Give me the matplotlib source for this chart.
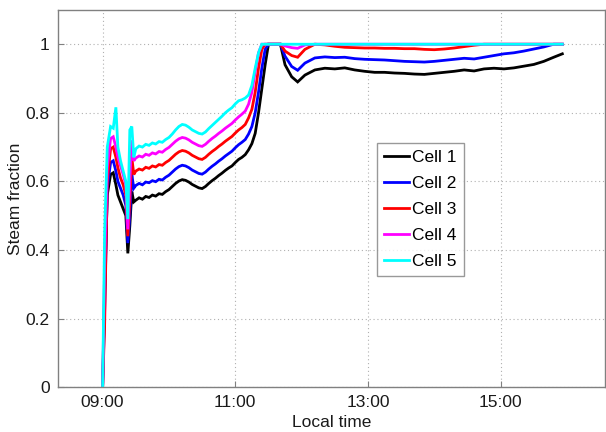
#!/usr/bin/env python3
"""Steam fraction per cell over the day."""
import matplotlib
matplotlib.use("Agg")
import matplotlib.pyplot as plt

# time in decimal hours (local time)
hours = [9.00, 9.03, 9.07, 9.12, 9.16, 9.20, 9.23, 9.27, 9.31, 9.35, 9.38, 9.41, 9.44, 9.47, 9.50,
         9.55, 9.60, 9.65, 9.70, 9.75, 9.80, 9.85, 9.90, 9.95, 10.00,
         10.05, 10.10, 10.15, 10.20, 10.25, 10.30, 10.35, 10.40, 10.45, 10.50,
         10.55, 10.60, 10.65, 10.70, 10.75, 10.80, 10.85, 10.90, 10.95, 11.00,
         11.05, 11.10, 11.15, 11.20, 11.25, 11.30, 11.35, 11.40, 11.45, 11.50, 11.55, 11.60,
         11.68, 11.75, 11.85, 11.94, 12.05,
         12.20, 12.35, 12.50, 12.65, 12.80, 12.95, 13.10, 13.25, 13.40, 13.55, 13.70,
         13.85, 14.00, 14.15, 14.30, 14.45, 14.60, 14.75, 14.90, 15.05, 15.20, 15.35, 15.50, 15.65, 15.80, 15.93]

cell1 = [0.00, 0.28, 0.56, 0.62, 0.625, 0.59, 0.56, 0.54, 0.52, 0.50, 0.39, 0.47, 0.57, 0.54, 0.545,
         0.552, 0.548, 0.556, 0.553, 0.560, 0.557, 0.564, 0.562, 0.570, 0.576,
         0.585, 0.594, 0.601, 0.605, 0.603, 0.598, 0.591, 0.586, 0.581, 0.579,
         0.585, 0.594, 0.602, 0.609, 0.617, 0.624, 0.632, 0.639, 0.645, 0.655,
         0.664, 0.670, 0.678, 0.692, 0.710, 0.740, 0.800, 0.870, 0.940, 1.0, 1.0, 1.0,
         1.0, 0.94, 0.905, 0.89, 0.91,
         0.925, 0.930, 0.928, 0.931, 0.925, 0.921, 0.918, 0.918, 0.916, 0.915, 0.913,
         0.912, 0.915, 0.918, 0.921, 0.925, 0.922, 0.928, 0.930, 0.928, 0.931, 0.936, 0.941, 0.950, 0.962, 0.972]

cell2 = [0.00, 0.22, 0.58, 0.655, 0.66, 0.63, 0.60, 0.58, 0.56, 0.53, 0.42, 0.50, 0.62, 0.58, 0.588,
         0.594, 0.590, 0.598, 0.596, 0.602, 0.599, 0.606, 0.604, 0.612, 0.618,
         0.627, 0.636, 0.643, 0.647, 0.645, 0.640, 0.633, 0.628, 0.623, 0.621,
         0.627, 0.636, 0.644, 0.651, 0.659, 0.666, 0.674, 0.681, 0.688, 0.698,
         0.707, 0.714, 0.722, 0.738, 0.760, 0.800, 0.860, 0.930, 0.985, 1.0, 1.0, 1.0,
         1.0, 0.965, 0.935, 0.924, 0.945,
         0.960, 0.963, 0.961, 0.962, 0.958, 0.956, 0.955, 0.954, 0.952, 0.950, 0.949,
         0.948, 0.950, 0.953, 0.956, 0.959, 0.957, 0.962, 0.967, 0.972, 0.975, 0.980, 0.986, 0.992, 1.0, 1.0]

cell3 = [0.00, 0.18, 0.60, 0.695, 0.70, 0.67, 0.64, 0.61, 0.59, 0.56, 0.44, 0.54, 0.67, 0.62, 0.630,
         0.636, 0.633, 0.641, 0.638, 0.645, 0.642, 0.649, 0.647, 0.655, 0.661,
         0.670, 0.679, 0.686, 0.690, 0.688, 0.683, 0.676, 0.671, 0.666, 0.664,
         0.670, 0.679, 0.687, 0.694, 0.702, 0.709, 0.717, 0.724, 0.731, 0.741,
         0.750, 0.757, 0.766, 0.785, 0.810, 0.860, 0.930, 0.985, 1.0, 1.0, 1.0, 1.0,
         1.0, 0.980, 0.967, 0.962, 0.985,
         1.0, 0.998, 0.994, 0.991, 0.990, 0.989, 0.989, 0.988, 0.988, 0.987, 0.987,
         0.985, 0.984, 0.986, 0.989, 0.993, 0.997, 1.0, 1.0, 1.0, 1.0, 1.0, 1.0, 1.0, 1.0, 1.0]

cell4 = [0.00, 0.35, 0.64, 0.725, 0.73, 0.70, 0.67, 0.645, 0.62, 0.59, 0.46, 0.60, 0.72, 0.66, 0.668,
         0.674, 0.671, 0.679, 0.676, 0.683, 0.680, 0.687, 0.685, 0.693, 0.699,
         0.708, 0.717, 0.724, 0.728, 0.726, 0.721, 0.714, 0.709, 0.704, 0.702,
         0.708, 0.717, 0.725, 0.732, 0.740, 0.747, 0.755, 0.762, 0.769, 0.779,
         0.788, 0.796, 0.805, 0.825, 0.860, 0.920, 0.975, 1.0, 1.0, 1.0, 1.0, 1.0,
         1.0, 0.995, 0.990, 0.988, 0.998,
         1.0, 1.0, 1.0, 1.0, 1.0, 1.0, 1.0, 1.0, 1.0, 1.0, 1.0,
         1.0, 1.0, 1.0, 1.0, 1.0, 1.0, 1.0, 1.0, 1.0, 1.0, 1.0, 1.0, 1.0, 1.0, 1.0]

cell5 = [0.00, 0.45, 0.70, 0.76, 0.755, 0.816, 0.70, 0.66, 0.63, 0.60, 0.49, 0.75, 0.76, 0.67, 0.695,
         0.703, 0.700, 0.708, 0.705, 0.712, 0.709, 0.716, 0.714, 0.722, 0.728,
         0.738, 0.750, 0.760, 0.766, 0.764, 0.758, 0.750, 0.745, 0.740, 0.738,
         0.744, 0.754, 0.763, 0.772, 0.781, 0.790, 0.800, 0.808, 0.815, 0.826,
         0.835, 0.838, 0.843, 0.852, 0.880, 0.930, 0.975, 1.0, 1.0, 1.0, 1.0, 1.0,
         1.0, 1.0, 1.0, 1.0, 1.0,
         1.0, 1.0, 1.0, 1.0, 1.0, 1.0, 1.0, 1.0, 1.0, 1.0, 1.0,
         1.0, 1.0, 1.0, 1.0, 1.0, 1.0, 1.0, 1.0, 1.0, 1.0, 1.0, 1.0, 1.0, 1.0, 1.0]

labels = ["Cell 1", "Cell 2", "Cell 3", "Cell 4", "Cell 5"]
colors = ["#000000", "#0000ff", "#ff0000", "#ff00ff", "#00ffff"]
tick_hours = [9, 11, 13, 15]
tick_labels = ["09:00", "11:00", "13:00", "15:00"]
y_ticks = [0, 0.2, 0.4, 0.6, 0.8, 1.0]
y_tick_labels = ["0", "0.2", "0.4", "0.6", "0.8", "1"]

plt.rcParams["font.family"] = ["Liberation Sans", "DejaVu Sans"]
fig = plt.figure(figsize=(6.06, 4.32), dpi=100)
ax = fig.add_axes([0.096, 0.104, 0.902, 0.873])

for vals, lab, col in zip([cell1, cell2, cell3, cell4, cell5], labels, colors):
    ax.plot(hours, vals, color=col, lw=2.0, label=lab, solid_joinstyle="miter")

ax.set_xlim(8.33, 16.57); ax.set_ylim(0, 1.1)
ax.set_xticks(tick_hours); ax.set_xticklabels(tick_labels)
ax.set_yticks(y_ticks); ax.set_yticklabels(y_tick_labels)
ax.tick_params(direction="in", length=4, color="#808080", labelsize=12.5, labelcolor="#1a1a1a", pad=6)
ax.grid(True, linestyle=(0, (1, 2.5)), color="#b0b0b0", lw=0.8)
for s in ax.spines.values(): s.set_color("#808080"); s.set_linewidth(1.0)
ax.set_xlabel("Local time", fontsize=12.5, color="#1a1a1a", labelpad=3)
ax.set_ylabel("Steam fraction", fontsize=12.5, color="#1a1a1a", labelpad=2)

leg = ax.legend(loc="upper left", bbox_to_anchor=(0.583, 0.647), fontsize=12.5, fancybox=False,
                handlelength=1.45, handletextpad=0.2, labelspacing=0.62, borderpad=0.4, borderaxespad=0)
leg.get_frame().set_edgecolor("#808080"); leg.get_frame().set_linewidth(1.0)

fig.savefig("out.png", dpi=100)
